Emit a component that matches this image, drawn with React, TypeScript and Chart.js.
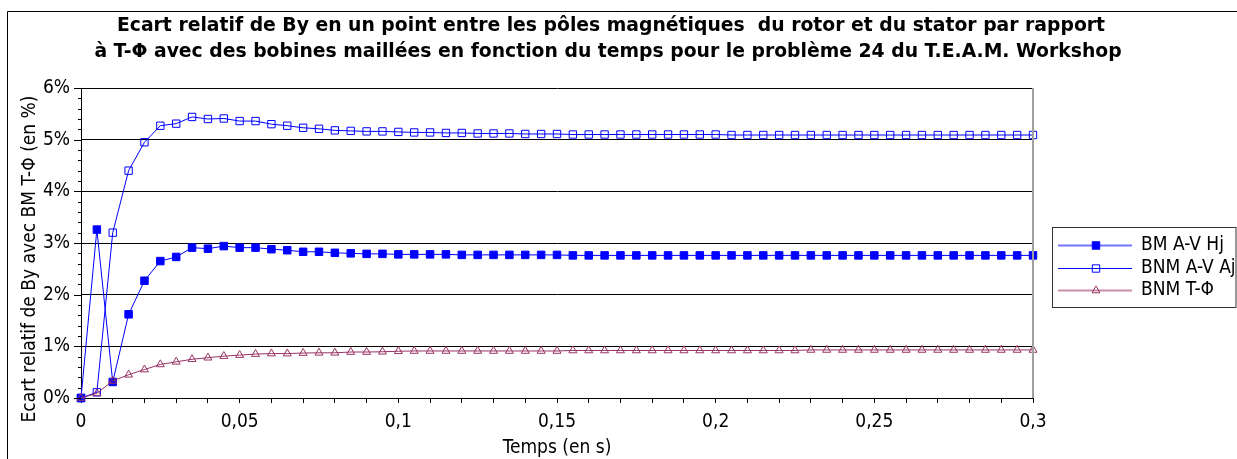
import { useEffect, useRef } from 'react';
import { Chart, registerables } from 'chart.js';
import { drawPoint } from 'chart.js/helpers';

Chart.register(...registerables);

const FONT = "'DejaVu Sans Condensed', 'Liberation Sans', sans-serif";
const TITLE_FONT = "bold 18.8px 'DejaVu Sans', 'Liberation Sans', sans-serif";
const TEXT_SIZE = 19;

const TITLE_LINES = [
  'Ecart relatif de By en un point entre les pôles magnétiques  du rotor et du stator par rapport',
  'à T-Φ avec des bobines maillées en fonction du temps pour le problème 24 du T.E.A.M. Workshop',
];
const X_TITLE = 'Temps (en s)';
const Y_TITLE = 'Ecart relatif de By avec BM T-Φ (en %)';
const SERIES_LABELS = ['BM A-V Hj', 'BNM A-V Aj', 'BNM T-Φ'];
const SERIES_COLORS = ['#0000ff', '#0000ff', '#993366'];

const X_MAJOR = [0, 0.05, 0.1, 0.15, 0.2, 0.25, 0.3];
const X_TICK_LABELS = ['0', '0,05', '0,1', '0,15', '0,2', '0,25', '0,3'];
const Y_TICK_LABELS = ['0%', '1%', '2%', '3%', '4%', '5%', '6%'];

const TIMES = [
  0, 0.005, 0.01, 0.015, 0.02, 0.025, 0.03, 0.035, 0.04, 0.045,
  0.05, 0.055, 0.06, 0.065, 0.07, 0.075, 0.08, 0.085, 0.09, 0.095,
  0.1, 0.105, 0.11, 0.115, 0.12, 0.125, 0.13, 0.135, 0.14, 0.145,
  0.15, 0.155, 0.16, 0.165, 0.17, 0.175, 0.18, 0.185, 0.19, 0.195,
  0.2, 0.205, 0.21, 0.215, 0.22, 0.225, 0.23, 0.235, 0.24, 0.245,
  0.25, 0.255, 0.26, 0.265, 0.27, 0.275, 0.28, 0.285, 0.29, 0.295,
  0.3,
];

const BM_AV_HJ = [
  0, 3.26, 0.31, 1.62, 2.27, 2.65, 2.73, 2.91, 2.89, 2.94,
  2.91, 2.91, 2.88, 2.86, 2.83, 2.83, 2.81, 2.8, 2.79, 2.79,
  2.78, 2.78, 2.78, 2.78, 2.77, 2.77, 2.77, 2.77, 2.77, 2.77,
  2.77, 2.76, 2.76, 2.76, 2.76, 2.76, 2.76, 2.76, 2.76, 2.76,
  2.76, 2.76, 2.76, 2.76, 2.76, 2.76, 2.76, 2.76, 2.76, 2.76,
  2.76, 2.76, 2.76, 2.76, 2.76, 2.76, 2.76, 2.76, 2.76, 2.76,
  2.76,
];

const BNM_AV_AJ = [
  0, 0.11, 3.2, 4.4, 4.95, 5.27, 5.31, 5.44, 5.4, 5.41,
  5.36, 5.36, 5.3, 5.27, 5.23, 5.21, 5.18, 5.17, 5.16, 5.16,
  5.15, 5.14, 5.14, 5.13, 5.13, 5.12, 5.12, 5.12, 5.11, 5.11,
  5.11, 5.1, 5.1, 5.1, 5.1, 5.1, 5.1, 5.1, 5.1, 5.1,
  5.1, 5.09, 5.09, 5.09, 5.09, 5.09, 5.09, 5.09, 5.09, 5.09,
  5.09, 5.09, 5.09, 5.09, 5.09, 5.09, 5.09, 5.09, 5.09, 5.09,
  5.09,
];

const BNM_T_PHI = [
  0, 0.09, 0.33, 0.45, 0.55, 0.65, 0.7, 0.75, 0.78, 0.81,
  0.83, 0.85, 0.86, 0.86, 0.87, 0.875, 0.875, 0.89, 0.89, 0.895,
  0.905, 0.91, 0.91, 0.91, 0.91, 0.91, 0.91, 0.91, 0.91, 0.91,
  0.91, 0.92, 0.92, 0.92, 0.92, 0.92, 0.92, 0.92, 0.92, 0.92,
  0.92, 0.92, 0.92, 0.92, 0.92, 0.92, 0.93, 0.93, 0.93, 0.93,
  0.93, 0.93, 0.93, 0.93, 0.93, 0.93, 0.93, 0.93, 0.93, 0.93,
  0.93,
];

const isInt = (v: number) => Math.abs(v - Math.round(v)) < 1e-6;

const xLabel = (v: number) => {
  const i = X_MAJOR.findIndex((m) => Math.abs(m - v) < 1e-6);
  return i >= 0 ? X_TICK_LABELS[i] : '';
};

const decorPlugin = {
  id: 'decor',
  beforeDraw(chart: any) {
    const ctx = chart.ctx;
    ctx.save();
    ctx.fillStyle = '#ffffff';
    ctx.fillRect(0, 0, chart.width, chart.height);
    ctx.restore();
  },
  afterDraw(chart: any) {
    const ctx = chart.ctx as CanvasRenderingContext2D;
    const { left, right, top, bottom } = chart.chartArea;
    ctx.save();

    // outer frame
    ctx.strokeStyle = '#000';
    ctx.lineWidth = 1;
    ctx.beginPath();
    ctx.moveTo(7.5, chart.height);
    ctx.lineTo(7.5, 11.5);
    ctx.lineTo(chart.width, 11.5);
    ctx.stroke();

    // right border of plot area
    ctx.strokeStyle = '#a0a0a0';
    ctx.lineWidth = 2;
    ctx.beginPath();
    ctx.moveTo(right, top);
    ctx.lineTo(right, bottom);
    ctx.stroke();

    // y ticks (major + minor)
    const ys = chart.scales.y;
    ctx.strokeStyle = '#000';
    ctx.lineWidth = 1;
    ctx.beginPath();
    for (const t of ys.ticks) {
      const py = Math.round(ys.getPixelForValue(t.value)) + 0.5;
      const len = isInt(t.value) ? 7 : 3;
      ctx.moveTo(left - len, py);
      ctx.lineTo(left, py);
    }
    ctx.stroke();

    // title
    ctx.fillStyle = '#000';
    ctx.font = TITLE_FONT;
    ctx.textAlign = 'center';
    ctx.textBaseline = 'alphabetic';
    ctx.fillText(TITLE_LINES[0], 611, 30.5);
    ctx.fillText(TITLE_LINES[1], 608, 57);

    // y axis title
    ctx.save();
    ctx.font = `${TEXT_SIZE}px ${FONT}`;
    ctx.translate(34.5, 259);
    ctx.rotate(-Math.PI / 2);
    ctx.textAlign = 'center';
    ctx.textBaseline = 'alphabetic';
    ctx.fillText(Y_TITLE, 0, 0);
    ctx.restore();

    // legend box
    ctx.beginPath();
    ctx.strokeStyle = '#333';
    ctx.lineWidth = 1;
    ctx.strokeRect(1052.5, 227.5, 183.5, 80);

    // legend entries
    const rows = [245, 268, 290];
    const offsets = [0, 0.5, 0];
    chart.data.datasets.forEach((ds: any, i: number) => {
      const ry = rows[i];
      ctx.save();
      ctx.fillStyle = SERIES_COLORS[i];
      ctx.globalAlpha = offsets[i] ? 1 : 0.55;
      ctx.fillRect(1058, offsets[i] ? ry : ry - 0.5, 74, offsets[i] ? 1 : 2);
      ctx.restore();
      ctx.save();
      ctx.beginPath();
      ctx.fillStyle = ds.pointBackgroundColor;
      ctx.strokeStyle = SERIES_COLORS[i];
      ctx.lineWidth = 1;
      drawPoint(ctx, { pointStyle: ds.pointStyle, radius: ds.pointRadius, rotation: 0, borderWidth: 1 } as any, 1096, ry + 0.5);
      ctx.restore();
      ctx.save();
      ctx.font = `${TEXT_SIZE}px ${FONT}`;
      ctx.textAlign = 'left';
      ctx.textBaseline = 'middle';
      ctx.fillStyle = '#000';
      ctx.fillText(ds.label, 1141, ry + 0.5);
      ctx.restore();
    });

    ctx.restore();
  },
};

export default function App() {
  const ref = useRef<HTMLCanvasElement>(null);

  useEffect(() => {
    const toPts = (vals: number[]) => TIMES.map((t, i) => ({ x: t, y: vals[i] }));
    const chart = new Chart(ref.current!, {
      type: 'line',
      data: {
        datasets: [
          {
            label: SERIES_LABELS[0],
            data: toPts(BM_AV_HJ),
            borderColor: SERIES_COLORS[0],
            borderWidth: 1,
            pointStyle: 'rect',
            pointRadius: 5.3,
            pointBackgroundColor: SERIES_COLORS[0],
            pointBorderColor: SERIES_COLORS[0],
            pointBorderWidth: 1,
            tension: 0,
            clip: false,
            order: 2,
          },
          {
            label: SERIES_LABELS[1],
            data: toPts(BNM_AV_AJ),
            borderColor: SERIES_COLORS[1],
            borderWidth: 1,
            pointStyle: 'rect',
            pointRadius: 5.2,
            pointBackgroundColor: 'rgba(0,0,0,0)',
            pointBorderColor: SERIES_COLORS[1],
            pointBorderWidth: 1,
            tension: 0,
            clip: false,
            order: 1,
          },
          {
            label: SERIES_LABELS[2],
            data: toPts(BNM_T_PHI),
            borderColor: SERIES_COLORS[2],
            borderWidth: 1,
            pointStyle: 'triangle',
            pointRadius: 4.6,
            pointBackgroundColor: 'rgba(0,0,0,0)',
            pointBorderColor: SERIES_COLORS[2],
            pointBorderWidth: 1,
            tension: 0,
            clip: false,
            order: 0,
          },
        ] as any,
      },
      options: {
        animation: false,
        responsive: false,
        events: [],
        layout: { padding: { top: 88, right: 204, left: 0, bottom: 0 } },
        plugins: {
          legend: { display: false },
          title: { display: false },
          tooltip: { enabled: false },
        },
        scales: {
          x: {
            type: 'linear',
            min: 0,
            max: 0.3,
            ticks: {
              stepSize: 0.01,
              autoSkip: false,
              maxRotation: 0,
              minRotation: 0,
              padding: 8,
              color: '#000',
              font: { family: FONT, size: TEXT_SIZE },
              callback: (v: any) => xLabel(Number(v)),
            },
            grid: {
              display: true,
              drawOnChartArea: false,
              drawTicks: true,
              tickLength: 5,
              color: '#000',
              tickColor: '#000',
            },
            border: { display: true, color: '#000', width: 1 },
            title: {
              display: true,
              text: X_TITLE,
              color: '#000',
              font: { family: FONT, size: TEXT_SIZE },
              padding: { top: 0, bottom: 0 },
            },
            afterFit: (s: any) => {
              s.height = 61;
            },
          },
          y: {
            type: 'linear',
            min: 0,
            max: 6,
            ticks: {
              stepSize: 0.2,
              autoSkip: false,
              padding: 11,
              color: '#000',
              font: { family: FONT, size: TEXT_SIZE },
              callback: (v: any) => (isInt(Number(v)) ? Y_TICK_LABELS[Math.round(Number(v))] : ''),
            },
            grid: {
              drawTicks: false,
              color: (c: any) => (c.tick && isInt(c.tick.value) ? '#000' : 'rgba(0,0,0,0)'),
              lineWidth: 1,
            },
            border: { display: true, color: '#000', width: 1 },
            afterFit: (s: any) => {
              s.width = 81;
            },
          },
        } as any,
      },
      plugins: [decorPlugin],
    });
    return () => chart.destroy();
  }, []);

  return (
    <div style={{ position: 'absolute', left: 0, top: 0, width: 1237, height: 459 }}>
      <canvas ref={ref} width={1237} height={459} style={{ display: 'block' }} />
    </div>
  );
}
